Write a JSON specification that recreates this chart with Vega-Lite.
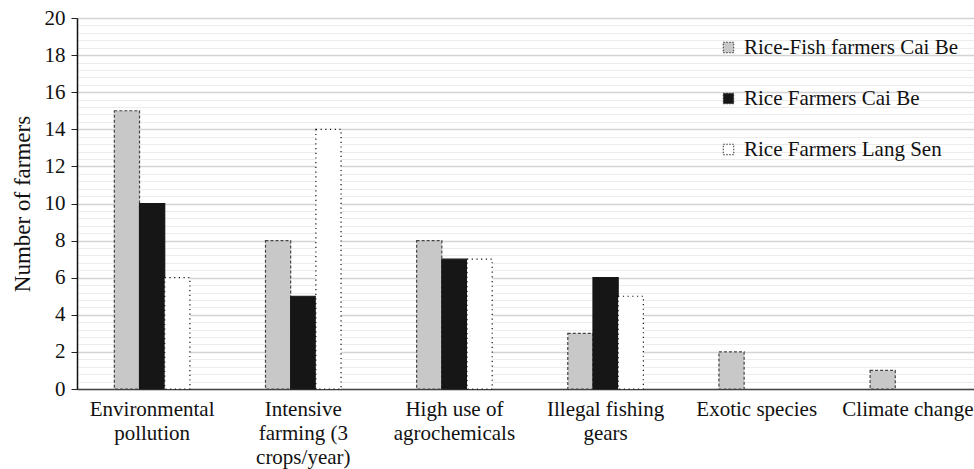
{
  "$schema": "https://vega.github.io/schema/vega-lite/v6.json",
  "autosize": {"type": "none"},
  "width": 897,
  "height": 371,
  "padding": {"left": 77, "top": 18, "right": 0, "bottom": 80},
  "background": "white",
  "config": {
    "view": {"stroke": null},
    "font": "Liberation Serif",
    "axis": {"labelFont": "Liberation Serif", "titleFont": "Liberation Serif", "labelColor": "#111", "titleColor": "#111"},
    "legend": {"labelFont": "Liberation Serif", "titleFont": "Liberation Serif"}
  },
  "data": {
    "values": [
      {"category": "Environmental pollution", "series": "Rice-Fish farmers Cai Be", "value": 15},
      {"category": "Environmental pollution", "series": "Rice Farmers Cai Be", "value": 10},
      {"category": "Environmental pollution", "series": "Rice Farmers Lang Sen", "value": 6},
      {"category": "Intensive farming (3 crops/year)", "series": "Rice-Fish farmers Cai Be", "value": 8},
      {"category": "Intensive farming (3 crops/year)", "series": "Rice Farmers Cai Be", "value": 5},
      {"category": "Intensive farming (3 crops/year)", "series": "Rice Farmers Lang Sen", "value": 14},
      {"category": "High use of agrochemicals", "series": "Rice-Fish farmers Cai Be", "value": 8},
      {"category": "High use of agrochemicals", "series": "Rice Farmers Cai Be", "value": 7},
      {"category": "High use of agrochemicals", "series": "Rice Farmers Lang Sen", "value": 7},
      {"category": "Illegal fishing gears", "series": "Rice-Fish farmers Cai Be", "value": 3},
      {"category": "Illegal fishing gears", "series": "Rice Farmers Cai Be", "value": 6},
      {"category": "Illegal fishing gears", "series": "Rice Farmers Lang Sen", "value": 5},
      {"category": "Exotic species", "series": "Rice-Fish farmers Cai Be", "value": 2},
      {"category": "Exotic species", "series": "Rice Farmers Cai Be", "value": 0},
      {"category": "Exotic species", "series": "Rice Farmers Lang Sen", "value": 0},
      {"category": "Climate change", "series": "Rice-Fish farmers Cai Be", "value": 1},
      {"category": "Climate change", "series": "Rice Farmers Cai Be", "value": 0},
      {"category": "Climate change", "series": "Rice Farmers Lang Sen", "value": 0}
    ]
  },
  "transform": [{"filter": "datum.value > 0"}],
  "mark": {"type": "bar", "strokeWidth": 1.2},
  "encoding": {
    "x": {
      "field": "category",
      "type": "nominal",
      "sort": ["Environmental pollution", "Intensive farming (3 crops/year)", "High use of agrochemicals", "Illegal fishing gears", "Exotic species", "Climate change"],
      "scale": {"range": [0, 906], "paddingInner": 0.5, "paddingOuter": 0.247},
      "axis": {
        "title": null,
        "labelAngle": 0,
        "ticks": false,
        "domainColor": "#444",
        "domainWidth": 1.5,
        "labelFont": "Liberation Serif",
        "labelFontSize": 21,
        "labelPadding": 9,
        "labelBaseline": "top",
        "labelLineHeight": 24,
        "labelLimit": 300,
        "labelExpr": "datum.value == 'Environmental pollution' ? ['Environmental', 'pollution'] : datum.value == 'Intensive farming (3 crops/year)' ? ['Intensive', 'farming (3', 'crops/year)'] : datum.value == 'High use of agrochemicals' ? ['High use of', 'agrochemicals'] : datum.value == 'Illegal fishing gears' ? ['Illegal fishing', 'gears'] : datum.label"
      }
    },
    "xOffset": {
      "field": "series",
      "type": "nominal",
      "sort": ["Rice-Fish farmers Cai Be", "Rice Farmers Cai Be", "Rice Farmers Lang Sen"]
    },
    "y": {
      "field": "value",
      "type": "quantitative",
      "scale": {"domain": [0, 20], "nice": false},
      "axis": {
        "title": "Number of farmers",
        "titleFont": "Liberation Serif",
        "titleFontSize": 23,
        "titleFontWeight": "normal",
        "titlePadding": 10,
        "labelFont": "Liberation Serif",
        "labelFontSize": 21,
        "labelPadding": 6,
        "tickSize": 6,
        "tickColor": "#222",
        "tickOpacity": {"condition": {"test": "datum.value % 2 === 0", "value": 1}, "value": 0},
        "domainColor": "#111",
        "domainWidth": 1.5,
        "values": [0,0.4,0.8,1.2,1.6,2,2.4,2.8,3.2,3.6,4,4.4,4.8,5.2,5.6,6,6.4,6.8,7.2,7.6,8,8.4,8.8,9.2,9.6,10,10.4,10.8,11.2,11.6,12,12.4,12.8,13.2,13.6,14,14.4,14.8,15.2,15.6,16,16.4,16.8,17.2,17.6,18,18.4,18.8,19.2,19.6,20],
        "labelExpr": "datum.value % 2 === 0 ? format(datum.value, 'd') : ''",
        "grid": true,
        "gridColor": {"condition": {"test": "datum.value % 2 === 0", "value": "#d4d4d4"}, "value": "#ececec"},
        "gridWidth": {"condition": {"test": "datum.value % 2 === 0", "value": 1.5}, "value": 1.2}
      }
    },
    "fill": {
      "field": "series",
      "type": "nominal",
      "sort": ["Rice-Fish farmers Cai Be", "Rice Farmers Cai Be", "Rice Farmers Lang Sen"],
      "scale": {"range": ["#c8c8c8", "#161616", "#ffffff"]},
      "legend": {
        "title": null,
        "orient": "none",
        "legendX": 641,
        "legendY": 19,
        "padding": 0,
        "labelFont": "Liberation Serif",
        "labelFontSize": 21,
        "labelColor": "#111",
        "symbolType": "square",
        "symbolSize": 110,
        "symbolStrokeWidth": 1,
        "symbolStrokeColor": "#333",
        "symbolDash": [1.5, 1.5],
        "rowPadding": 29,
        "labelOffset": 5,
        "labelLimit": 400
      }
    },
    "stroke": {
      "field": "series",
      "type": "nominal",
      "sort": ["Rice-Fish farmers Cai Be", "Rice Farmers Cai Be", "Rice Farmers Lang Sen"],
      "scale": {"range": ["#444444", "#161616", "#111111"]},
      "legend": null
    },
    "strokeDash": {
      "field": "series",
      "type": "nominal",
      "sort": ["Rice-Fish farmers Cai Be", "Rice Farmers Cai Be", "Rice Farmers Lang Sen"],
      "scale": {"range": [[3, 2], [1, 0], [1.2, 3.5]]},
      "legend": null
    }
  }
}
